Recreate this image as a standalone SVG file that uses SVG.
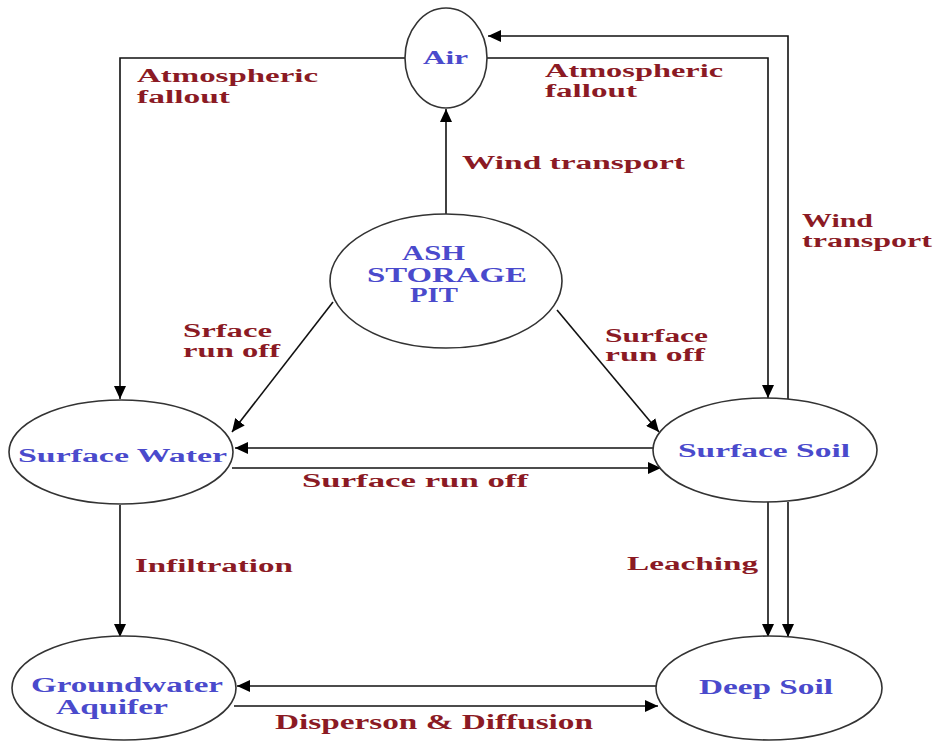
<svg xmlns="http://www.w3.org/2000/svg" width="937" height="746" viewBox="0 0 937 746">
<style>
.node ellipse{fill:#ffffff;stroke:#333333;stroke-width:1.6}
.nt{font-family:"Liberation Serif","Times New Roman",serif;font-weight:bold;font-size:18px;fill:#4a4acc}
.lb{font-family:"Liberation Serif","Times New Roman",serif;font-weight:bold;font-size:18px;fill:#8b1a24}
.edges path{fill:none;stroke:#111111;stroke-width:1.6;marker-end:url(#ah)}
</style>
<defs>
<marker id="ah" markerUnits="userSpaceOnUse" markerWidth="14" markerHeight="12" refX="13" refY="6" orient="auto">
<path d="M0,0 L13,6 L0,12 z" fill="#000000"/>
</marker>
</defs>
<rect width="937" height="746" fill="#ffffff"/>

<g class="edges" id="connectors">
<path d="M405,58 L120,58 L120,399"/>
<path d="M788,399 L788,36 L488,36"/>
<path d="M487,58 L768,58 L768,398"/>
<path d="M446,214 L446,109"/>
<path d="M333,302 L232,432"/>
<path d="M557,310 L659,432"/>
<path d="M654,448 L235,448"/>
<path d="M232,468 L661,468"/>
<path d="M120,505 L120,637"/>
<path d="M768,502 L768,637"/>
<path d="M788,502 L788,637"/>
<path d="M656,686 L237,686"/>
<path d="M234,706 L658,706"/>
</g>

<g class="node" id="air">
<ellipse cx="446" cy="58" rx="41" ry="50"/>
<text class="nt" x="423" y="64" textLength="45" lengthAdjust="spacingAndGlyphs">Air</text>
</g>
<g class="node" id="ash">
<ellipse cx="446" cy="281" rx="116" ry="67"/>
<text class="nt" x="402" y="260" font-size="20" textLength="63" lengthAdjust="spacingAndGlyphs" style="font-size:20px">ASH</text>
<text class="nt" x="367" y="282" textLength="160" lengthAdjust="spacingAndGlyphs" style="font-size:20px">STORAGE</text>
<text class="nt" x="410" y="302" textLength="48" lengthAdjust="spacingAndGlyphs" style="font-size:20px">PIT</text>
</g>
<g class="node" id="surface-water">
<ellipse cx="121" cy="452" rx="112" ry="52"/>
<text class="nt" x="18" y="462" textLength="209" lengthAdjust="spacingAndGlyphs">Surface Water</text>
</g>
<g class="node" id="surface-soil">
<ellipse cx="765" cy="450" rx="112" ry="52"/>
<text class="nt" x="678" y="457" textLength="172" lengthAdjust="spacingAndGlyphs">Surface Soil</text>
</g>
<g class="node" id="groundwater">
<ellipse cx="124" cy="688" rx="112" ry="52"/>
<text class="nt" x="31" y="692" textLength="192" lengthAdjust="spacingAndGlyphs" style="font-size:20px">Groundwater</text>
<text class="nt" x="56" y="714" textLength="112" lengthAdjust="spacingAndGlyphs" style="font-size:20px">Aquifer</text>
</g>
<g class="node" id="deep-soil">
<ellipse cx="769" cy="688" rx="113" ry="52"/>
<text class="nt" x="699" y="694" textLength="134" lengthAdjust="spacingAndGlyphs" style="font-size:20px">Deep Soil</text>
</g>

<g id="labels">
<text class="lb" x="137" y="82" textLength="181" lengthAdjust="spacingAndGlyphs">Atmospheric</text>
<text class="lb" x="137" y="103" textLength="93" lengthAdjust="spacingAndGlyphs">fallout</text>
<text class="lb" x="545" y="77" textLength="178" lengthAdjust="spacingAndGlyphs">Atmospheric</text>
<text class="lb" x="545" y="97" textLength="92" lengthAdjust="spacingAndGlyphs">fallout</text>
<text class="lb" x="462" y="169" textLength="223" lengthAdjust="spacingAndGlyphs">Wind transport</text>
<text class="lb" x="802" y="227" textLength="71" lengthAdjust="spacingAndGlyphs">Wind</text>
<text class="lb" x="802" y="247" textLength="130" lengthAdjust="spacingAndGlyphs">transport</text>
<text class="lb" x="183" y="337" textLength="89" lengthAdjust="spacingAndGlyphs">Srface</text>
<text class="lb" x="183" y="357" textLength="97" lengthAdjust="spacingAndGlyphs">run off</text>
<text class="lb" x="605" y="342" textLength="103" lengthAdjust="spacingAndGlyphs">Surface</text>
<text class="lb" x="605" y="361" textLength="100" lengthAdjust="spacingAndGlyphs">run off</text>
<text class="lb" x="302" y="487" textLength="226" lengthAdjust="spacingAndGlyphs">Surface run off</text>
<text class="lb" x="135" y="572" textLength="158" lengthAdjust="spacingAndGlyphs">Infiltration</text>
<text class="lb" x="627" y="570" textLength="131" lengthAdjust="spacingAndGlyphs">Leaching</text>
<text class="lb" x="275" y="729" textLength="318" lengthAdjust="spacingAndGlyphs" style="font-size:20px">Disperson &amp; Diffusion</text>
</g>
</svg>
